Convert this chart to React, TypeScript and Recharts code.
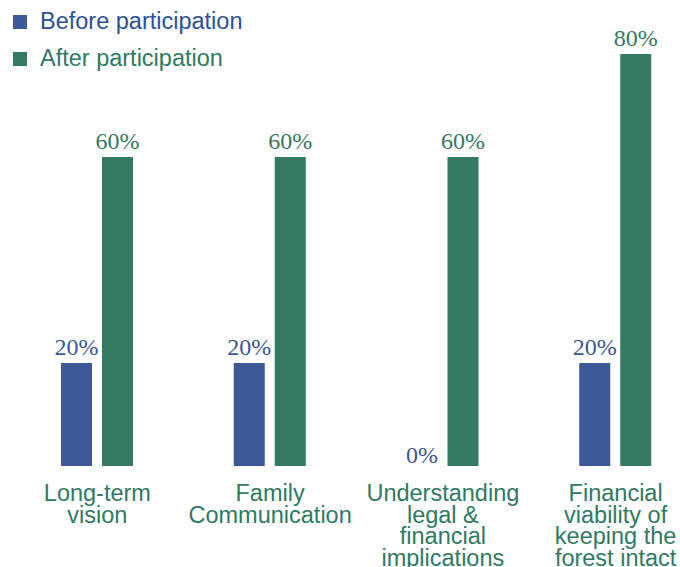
import { BarChart, Bar, XAxis, YAxis, Legend } from "recharts";

const categories = [
  "Long-term vision",
  "Family Communication",
  "Understanding legal & financial implications",
  "Financial viability of keeping the forest intact",
];
const tickLines = [
  ["Long-term", "vision"],
  ["Family", "Communication"],
  ["Understanding", "legal &", "financial", "implications"],
  ["Financial", "viability of", "keeping the", "forest intact"],
];
const before = [20, 20, 0, 20];
const after = [60, 60, 60, 80];
const seriesNames = ["Before participation", "After participation"];

const BLUE = "#3c5896";
const GREEN = "#347a62";
const SANS = "'Liberation Sans', Arial, sans-serif";
const SERIF = "'Liberation Serif', 'Times New Roman', serif";

const data = categories.map((name, i) => ({
  name,
  before: before[i],
  after: after[i],
}));

function CategoryTick({ x, y, index }: any) {
  const lines = tickLines[index] || [];
  return (
    <text
      x={x}
      y={y}
      textAnchor="middle"
      fill="#2f7a63"
      fontFamily={SANS}
      fontSize={23.5}
    >
      {lines.map((l, i) => (
        <tspan key={i} x={x} y={y + 35 + i * 21.5}>
          {l}
        </tspan>
      ))}
    </text>
  );
}

// bar + its value label, so the 0% label is drawn too
function makeShape(color: string, key: "before" | "after") {
  return (props: any) => {
    const { x, y, width, height, payload } = props;
    const value = payload[key];
    const off = value === 0 ? 3 : 8;
    return (
      <g>
        {height > 0 && (
          <rect x={x} y={y} width={width} height={height} fill={color} />
        )}
        <text
          x={x + width / 2}
          y={y - off}
          textAnchor="middle"
          fill={color}
          fontFamily={SERIF}
          fontSize={24}
        >
          {value}%
        </text>
      </g>
    );
  };
}

function LegendBox() {
  const colors = [BLUE, GREEN];
  const textColors = ["#2d4f9c", "#2f7a63"];
  return (
    <div style={{ fontFamily: SANS, fontSize: 23.5 }}>
      {seriesNames.map((n, i) => (
        <div
          key={n}
          style={{ display: "flex", alignItems: "center", height: 37 }}
        >
          <span
            style={{
              display: "inline-block",
              width: 14,
              height: 14,
              background: colors[i],
              marginLeft: 13,
              marginRight: 13,
            }}
          />
          <span style={{ color: textColors[i] }}>{n}</span>
        </div>
      ))}
    </div>
  );
}

export default function App() {
  return (
    <div
      style={{
        position: "absolute",
        left: 0,
        top: 0,
        width: 680,
        height: 567,
        overflow: "hidden",
        background: "#fff",
      }}
    >
      <BarChart
        width={702}
        height={567}
        data={data}
        margin={{ top: 54, right: 0, bottom: 0, left: 11 }}
        barSize={31}
        barGap={10}
      >
        <XAxis
          dataKey="name"
          axisLine={false}
          tickLine={false}
          tickSize={0}
          tickMargin={0}
          height={101}
          interval={0}
          tick={<CategoryTick />}
        />
        <YAxis hide domain={[0, 80]} />
        <Legend
          layout="horizontal"
          verticalAlign="middle"
          align="center"
          wrapperStyle={{ top: 3, left: 0, width: 300 }}
          content={<LegendBox />}
        />
        <Bar
          dataKey="before"
          name={seriesNames[0]}
          fill={BLUE}
          shape={makeShape(BLUE, "before")}
          isAnimationActive={false}
        />
        <Bar
          dataKey="after"
          name={seriesNames[1]}
          fill={GREEN}
          shape={makeShape(GREEN, "after")}
          isAnimationActive={false}
        />
      </BarChart>
    </div>
  );
}
